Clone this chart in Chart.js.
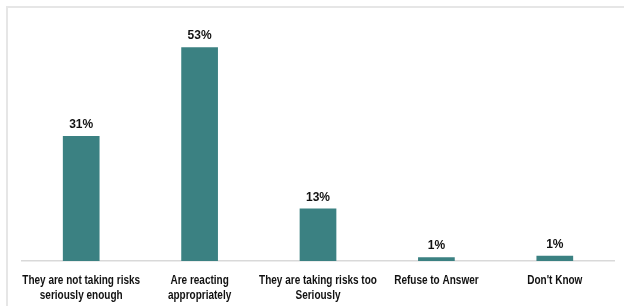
<!DOCTYPE html>
<html>
<head>
<meta charset="utf-8">
<script src="https://cdn.jsdelivr.net/npm/chart.js@4/dist/chart.umd.min.js"></script>
<style>
  html, body { margin: 0; padding: 0; background: #fff; overflow: hidden; }
  #wrap { position: relative; width: 624px; height: 306px; }
  #frame { position: absolute; left: 6px; top: 6px; width: 618px; height: 300px; border-left: 2px solid #e6e6e6; border-top: 2px solid #e6e6e6; box-sizing: border-box; }
  canvas { position: absolute; left: 0; top: 0; }
</style>
</head>
<body>
<div id="wrap">
  <div id="frame"></div>
  <canvas id="barChart" width="624" height="306"></canvas>
</div>
<script>
// dữ liệu
const categories = [
  ['They are not taking risks', 'seriously enough'],
  ['Are reacting', 'appropriately'],
  ['They are taking risks too', 'Seriously'],
  ['Refuse to Answer'],
  ["Don't Know"]
];
const values = [31, 53, 13, 0.9, 1.3];
const valueLabels = ['31%', '53%', '13%', '1%', '1%'];

const fontFamily = '"Liberation Sans", Arial, sans-serif';

// nhãn trục x (chữ hẹp) và nhãn phần trăm trên đầu cột
const textLayer = {
  id: 'textLayer',
  afterDraw(chart) {
    const c = chart.ctx;
    const xScale = chart.scales.x;
    const meta = chart.getDatasetMeta(0);
    c.save();
    c.fillStyle = '#111';
    c.textAlign = 'center';
    c.textBaseline = 'alphabetic';

    c.font = 'bold 12px ' + fontFamily;
    meta.data.forEach((bar, i) => {
      c.fillText(valueLabels[i], bar.x, bar.y - 8);
    });

    c.font = 'bold 12.5px ' + fontFamily;
    const top = chart.chartArea.bottom;
    categories.forEach((lines, i) => {
      const x = xScale.getPixelForTick(i);
      lines.forEach((line, j) => {
        c.save();
        c.translate(x, top + 23 + j * 15);
        c.scale(0.8, 1);
        c.fillText(line, 0, 0);
        c.restore();
      });
    });
    c.restore();
  }
};

const ctx = document.getElementById('barChart').getContext('2d');
const barChart = new Chart(ctx, {
  type: 'bar',
  data: {
    labels: categories,
    datasets: [{
      data: values,
      backgroundColor: '#3b8182',
      borderWidth: 0,
      barPercentage: 0.31,
      categoryPercentage: 1
    }]
  },
  options: {
    responsive: false,
    animation: false,
    layout: { padding: { left: 22, right: 10, top: 19, bottom: 0 } },
    plugins: { legend: { display: false }, tooltip: { enabled: false } },
    scales: {
      x: {
        grid: { display: false },
        border: { display: true, color: '#d9d9d9', width: 1.5 },
        ticks: { display: false },
        afterFit(scale) { scale.height = 45; }
      },
      y: {
        display: false,
        min: 0,
        max: 60
      }
    }
  },
  plugins: [textLayer]
});
</script>
</body>
</html>
